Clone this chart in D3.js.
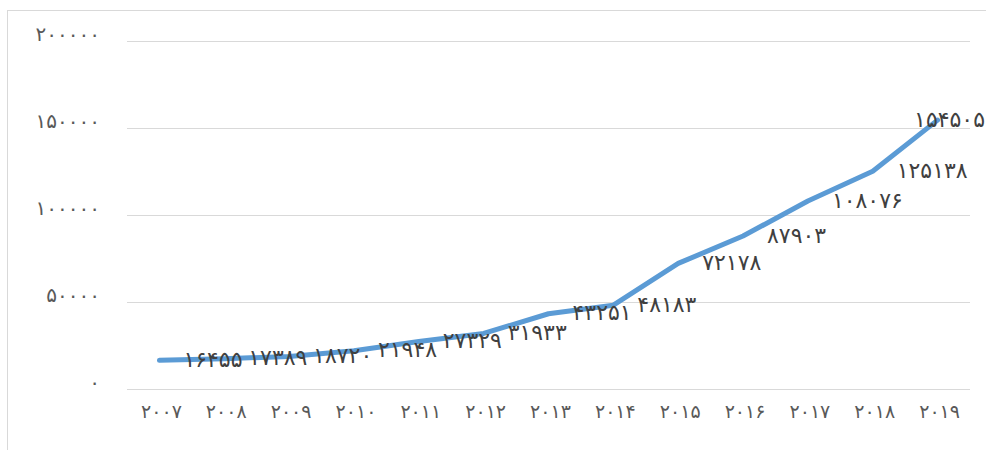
<!DOCTYPE html>
<html><head><meta charset="utf-8">
<script src="https://cdn.jsdelivr.net/npm/d3@7"></script>
<style>html,body{margin:0;padding:0;background:#fff;overflow:hidden}svg{display:block}</style>
</head><body>
<svg id="c" width="986" height="450"></svg>
<script>
const years = ["2007","2008","2009","2010","2011","2012","2013","2014","2015","2016","2017","2018","2019"];
const values = [16455,17389,18720,21948,27329,31933,43251,48183,72178,87903,108076,125138,154505];
const yTicks = [0,50000,100000,150000,200000];

const fa = s => String(s).replace(/[0-9]/g, d => "۰۱۲۳۴۵۶۷۸۹"[+d]);
const W = 986, H = 450;
const svg = d3.select("#c");
const font = "'DejaVu Sans', sans-serif";

svg.append("rect").attr("x",7.5).attr("y",10.5).attr("width",W).attr("height",H)
  .attr("fill","none").attr("stroke","#d9d9d9");

const x = d3.scaleBand().domain(years).range([127,970]);
const y = d3.scaleLinear().domain([0,200000]).range([389,41]);

const grid = svg.append("g");
grid.selectAll("line").data(yTicks).join("line")
  .attr("x1",127).attr("x2",970)
  .attr("y1",d=>Math.round(y(d))+0.5).attr("y2",d=>Math.round(y(d))+0.5)
  .attr("stroke","#d9d9d9").attr("stroke-width",1);

const yAxis = d3.axisLeft(y).tickValues(yTicks).tickSize(0).tickPadding(0).tickFormat(fa);
svg.append("g").attr("transform","translate(100,-7)").call(yAxis)
  .call(g=>g.select(".domain").remove())
  .selectAll("text").attr("fill","#595959").style("font-family",font).style("font-size","20px")
  .style("letter-spacing","3px");

const xAxis = d3.axisBottom(x).tickSize(0).tickPadding(0).tickFormat(fa);
svg.append("g").attr("transform","translate(2,404)").call(xAxis)
  .call(g=>g.select(".domain").remove())
  .selectAll("text").attr("fill","#595959").style("font-family",font).style("font-size","19px");

const line = d3.line().x((d,i)=>x(years[i])+x.bandwidth()/2).y(d=>y(d));
svg.append("path").datum(values).attr("d",line).attr("fill","none")
  .attr("stroke","#5b9bd5").attr("stroke-width",5).attr("stroke-linecap","round").attr("stroke-linejoin","round");

const labels = svg.append("g");
values.forEach((v,i)=>{
  const px = x(years[i])+x.bandwidth()/2, py = y(v);
  const t = labels.append("text").text(fa(v))
    .attr("y",py).attr("dy","0.3em")
    .attr("fill","#404040").style("font-family",font).style("font-size","22px");
  const w = t.node().getComputedTextLength();
  t.attr("x", Math.min(px+24, W - w - 1));
});
</script>
</body></html>
